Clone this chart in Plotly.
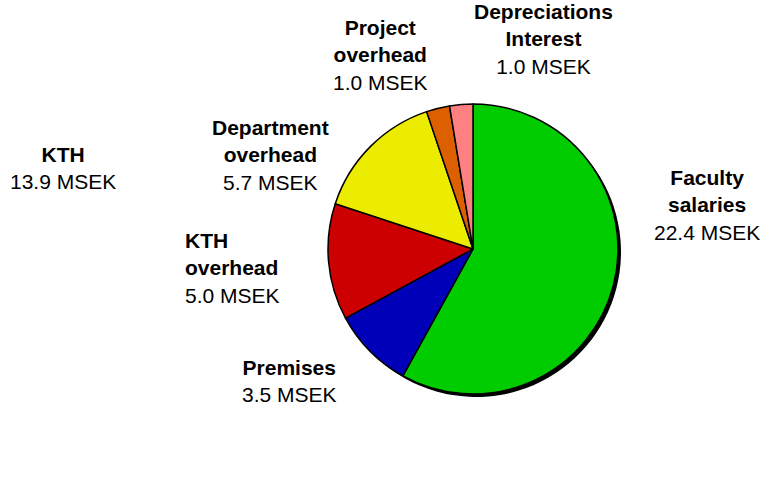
import plotly.graph_objects as go

W, H = 773, 495

categories = ["Faculty salaries", "Premises", "KTH overhead", "Department overhead",
              "Project overhead", "Depreciations Interest"]
values_msek = [22.4, 3.5, 5.0, 5.7, 1.0, 1.0]
colors = ["#00cc00", "#0000b8", "#cc0000", "#ecec00", "#dc6000", "#ff8080"]

label_lines = [["Faculty", "salaries"], ["Premises"], ["KTH", "overhead"],
               ["Department", "overhead"], ["Project", "overhead"], ["Depreciations", "Interest"]]
# label positions in pixels (x, y of text block centre) and alignment
label_pos = [(707, 205, "center"), (289, 381, "center"), (183, 268, "left"),
             (270, 155, "center"), (380, 55, "center"), (543, 39, "center")]

total_name = "KTH"
total_value = 13.9
total_pos = (63, 168)

FONT = "Liberation Sans, Arial, sans-serif"
FS = 21

# pie geometry (pixels)
cx, cy, r = 473, 249, 145
shadow = 3

def fx(px):
    return px / W

def fy(py):
    return 1 - py / H

def dom(cxp, cyp):
    return dict(x=[fx(cxp - r), fx(cxp + r)], y=[fy(cyp + r), fy(cyp - r)])

fig = go.Figure()
# drop shadow
fig.add_trace(go.Pie(
    labels=categories, values=values_msek, sort=False, direction="clockwise",
    marker=dict(colors=["#000000"] * len(values_msek), line=dict(color="#000000", width=0)),
    textinfo="none", hoverinfo="skip", showlegend=False,
    domain=dom(cx + shadow, cy + shadow),
))
fig.add_trace(go.Pie(
    labels=categories, values=values_msek, sort=False, direction="clockwise",
    marker=dict(colors=colors, line=dict(color="#000000", width=1.5)),
    textinfo="none", hoverinfo="label+value", showlegend=False,
    domain=dom(cx, cy),
))

annotations = []
for lines, v, (px, py, al) in zip(label_lines, values_msek, label_pos):
    txt = "<br>".join(f"<b>{l}</b>" for l in lines) + f"<br>{v:.1f} MSEK"
    annotations.append(dict(
        text=txt, xref="paper", yref="paper", x=fx(px), y=fy(py),
        xanchor="left" if al == "left" else "center", yanchor="middle",
        align=al, showarrow=False, font=dict(family=FONT, size=FS, color="#000000"),
    ))
annotations.append(dict(
    text=f"<b>{total_name}</b><br>{total_value:.1f} MSEK", xref="paper", yref="paper",
    x=fx(total_pos[0]), y=fy(total_pos[1]), xanchor="center", yanchor="middle",
    align="center", showarrow=False, font=dict(family=FONT, size=FS, color="#000000"),
))

fig.update_layout(
    width=W, height=H, margin=dict(l=0, r=0, t=0, b=0),
    paper_bgcolor="white", plot_bgcolor="white",
    annotations=annotations,
)
fig.write_html("out.html", config={"displayModeBar": False},
               post_script="document.body.style.margin='0';document.body.style.overflow='hidden';")
